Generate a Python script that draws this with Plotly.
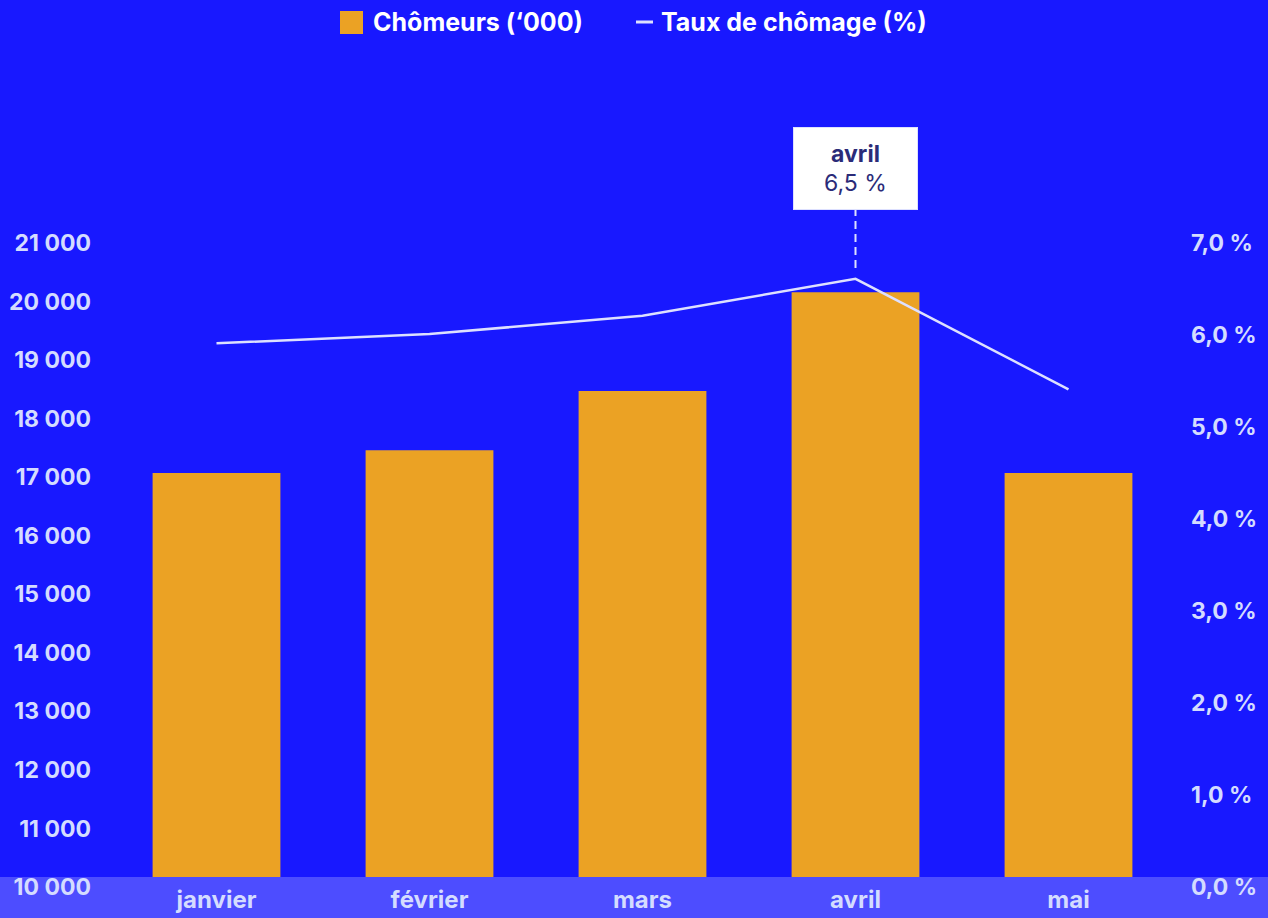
import plotly.graph_objects as go

months = ["janvier", "février", "mars", "avril", "mai"]
chomeurs = [17070, 17460, 18470, 20160, 17070]
taux = [5.91, 6.01, 6.21, 6.61, 5.41]

left_ticks = list(range(10000, 21001, 1000))
left_labels = [f"{v // 1000} 000" for v in left_ticks]
right_ticks = list(range(0, 8))
right_labels = [f"{v},0 %" for v in right_ticks]

bar_name = "Chômeurs (‘000)"
line_name = "Taux de chômage (%)"
highlight = "avril"
highlight_text = "6,5 %"

BG = "#1818ff"
BAND = "#4d4dff"
BAR = "#eba224"
TXT = "#d4dcff"
LINE = "#dde0ff"
NAVY = "#2b2b78"
FONT = "Inter"

W, H = 1268, 918
ML, MR, MT, MB = 110, 93, 100, 31
PW, PH = W - ML - MR, H - MT - MB
TICK_TOP = 243  # pixel row of the top tick (21 000 / 7,0 %)


def px_x(px):
    return (px - ML) / PW


def px_y(py):
    return (H - MB - py) / PH


# stretch ranges so the top ticks sit at TICK_TOP while leaving room above
extra = (H - MB - MT) / (H - MB - TICK_TOP)
y1_range = [left_ticks[0], left_ticks[0] + (left_ticks[-1] - left_ticks[0]) * extra]
y2_range = [right_ticks[0], right_ticks[0] + (right_ticks[-1] - right_ticks[0]) * extra]

fig = go.Figure()

fig.add_trace(go.Bar(
    x=months, y=chomeurs,
    name=bar_name,
    marker=dict(color=BAR, line_width=0),
    width=0.6,
))

fig.add_trace(go.Scatter(
    x=months, y=taux,
    name=line_name,
    mode="lines",
    line=dict(color=LINE, width=2.5),
    yaxis="y2",
))

# bottom band (behind, under the axis labels)
fig.add_shape(
    type="rect", layer="below",
    xref="paper", x0=-0.2, x1=1.2,
    yref="paper", ysizemode="pixel", yanchor=0, y0=-40, y1=10,
    fillcolor=BAND, line_width=0,
)
# same band over the bars' feet inside the plot
fig.add_shape(
    type="rect", layer="above",
    xref="paper", x0=0, x1=1,
    yref="paper", ysizemode="pixel", yanchor=0, y0=-2, y1=10,
    fillcolor=BAND, line_width=0,
)

# tooltip for the highlighted month
hi = months.index(highlight)
fig.add_shape(
    type="line",
    xref="x", x0=highlight, x1=highlight,
    yref="y2", ysizemode="pixel", yanchor=taux[hi], y0=11, y1=69,
    line=dict(color=LINE, width=2, dash="8px,5px"),
)
fig.add_annotation(
    x=highlight, y=taux[hi], yref="y2",
    text=f"<b>{highlight}</b><br>{highlight_text}",
    showarrow=False, yshift=110,
    width=115, height=73, borderpad=4,
    bgcolor="white", bordercolor=LINE, borderwidth=1,
    font=dict(family=FONT, size=23, color=NAVY, weight="normal"),
    align="center",
)

# legend drawn by hand (bigger swatches than plotly's own)
fig.add_shape(
    type="rect", xref="paper", yref="paper",
    x0=px_x(340), x1=px_x(363), y0=px_y(34), y1=px_y(11),
    fillcolor=BAR, line_width=0,
)
fig.add_annotation(
    xref="paper", yref="paper", x=px_x(371), y=px_y(22),
    xanchor="left", yanchor="middle", showarrow=False,
    text=bar_name,
    font=dict(family=FONT, size=25, color="white", weight="bold"),
)
fig.add_shape(
    type="line", xref="paper", yref="paper",
    x0=px_x(636), x1=px_x(653), y0=px_y(22), y1=px_y(22),
    line=dict(color=LINE, width=3),
)
fig.add_annotation(
    xref="paper", yref="paper", x=px_x(659), y=px_y(22),
    xanchor="left", yanchor="middle", showarrow=False,
    text=line_name,
    font=dict(family=FONT, size=25, color="white", weight="bold"),
)

fig.update_layout(
    width=W, height=H,
    margin=dict(l=ML, r=MR, t=MT, b=MB),
    paper_bgcolor=BG,
    plot_bgcolor="rgba(0,0,0,0)",
    font=dict(family=FONT, size=22, color=TXT, weight="bold"),
    showlegend=False,
    bargap=0.4,
    xaxis=dict(
        showgrid=False, zeroline=False, showline=False, automargin=False,
        ticks="", tickfont=dict(color=TXT, size=24),
        ticklabelstandoff=-4,
    ),
    yaxis=dict(
        range=y1_range, automargin=False,
        tickvals=left_ticks, ticktext=left_labels,
        showgrid=False, zeroline=False, showline=False,
        ticks="", ticklabelstandoff=18,
        tickfont=dict(color=TXT, size=23),
    ),
    yaxis2=dict(
        range=y2_range, automargin=False,
        overlaying="y", side="right",
        tickvals=right_ticks, ticktext=right_labels,
        showgrid=False, zeroline=False, showline=False,
        ticks="", ticklabelstandoff=15,
        tickfont=dict(color=TXT, size=23),
    ),
)

fig.write_html(
    "out.html",
    config={"displayModeBar": False},
    post_script="document.body.style.margin='0';",
)
